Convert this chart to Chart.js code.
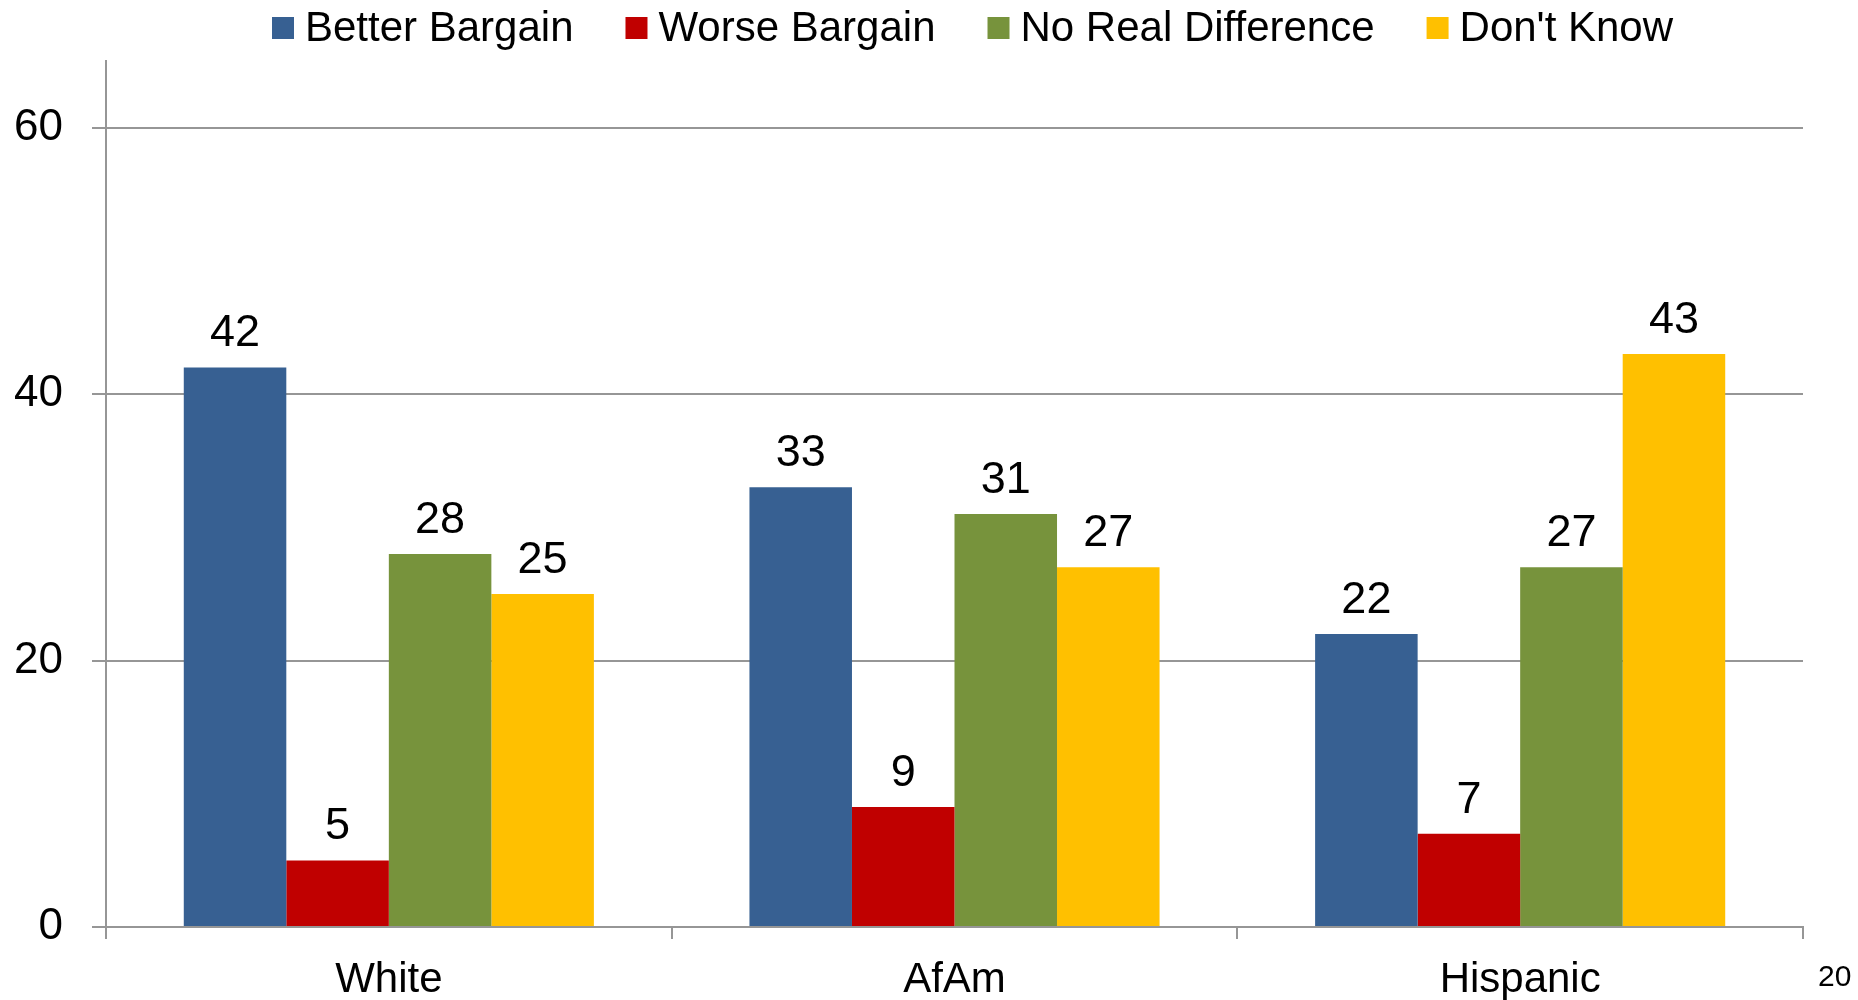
<!DOCTYPE html>
<html>
<head>
<meta charset="utf-8">
<script src="https://cdn.jsdelivr.net/npm/chart.js@4.4.0/dist/chart.umd.min.js"></script>
<style>
    body { margin: 0; background: #fff; }
    #wrap { position: relative; width: 1858px; height: 1000px; }
    #pageNum {
        position: absolute;
        left: 1818px;
        top: 961px;
        font-family: "Liberation Sans", Arial, sans-serif;
        font-size: 30px;
        line-height: 30px;
        color: #000;
    }
</style>
</head>
<body>
<div id="wrap">
    <canvas id="bargainChart"></canvas>
    <div id="pageNum">20</div>
</div>
<script>
// Kategórie a hodnoty zo stĺpcov
const groups = ['White', 'AfAm', 'Hispanic'];
const seriesNames = ['Better Bargain', 'Worse Bargain', 'No Real Difference', "Don't Know"];
const betterBargain = [42, 33, 22];
const worseBargain = [5, 9, 7];
const noRealDifference = [28, 31, 27];
const dontKnow = [25, 27, 43];
const yTicks = [0, 20, 40, 60];

const seriesColors = ['#376092', '#C00000', '#77933C', '#FFC000'];
const gridGray = '#969696';
const fontFamily = '"Liberation Sans", Arial, sans-serif';

// Hodnoty nad stĺpcami
const valueLabels = {
    id: 'valueLabels',
    afterDatasetsDraw(chart) {
        const ctx = chart.ctx;
        ctx.save();
        ctx.font = '45px ' + fontFamily;
        ctx.fillStyle = '#000';
        ctx.textAlign = 'center';
        ctx.textBaseline = 'alphabetic';
        chart.data.datasets.forEach((ds, i) => {
            chart.getDatasetMeta(i).data.forEach((bar, j) => {
                ctx.fillText(String(ds.data[j]), bar.x, bar.y - 21);
            });
        });
        ctx.restore();
    }
};

// Legenda hore (štvorček + text)
const topLegend = {
    id: 'topLegend',
    afterDraw(chart) {
        const ctx = chart.ctx;
        ctx.save();
        ctx.font = '42px ' + fontFamily;
        ctx.textBaseline = 'alphabetic';
        ctx.textAlign = 'left';
        let x = 272;
        chart.data.datasets.forEach((ds) => {
            ctx.fillStyle = ds.backgroundColor;
            ctx.fillRect(x, 17, 22, 22);
            ctx.fillStyle = '#000';
            ctx.fillText(ds.label, x + 33, 41);
            x += 33 + ctx.measureText(ds.label).width + 52;
        });
        ctx.restore();
    }
};

const seriesData = [betterBargain, worseBargain, noRealDifference, dontKnow];

const ctx = document.getElementById('bargainChart').getContext('2d');
new Chart(ctx, {
    type: 'bar',
    data: {
        labels: groups,
        datasets: seriesNames.map((name, i) => ({
            label: name,
            data: seriesData[i],
            backgroundColor: seriesColors[i],
            borderWidth: 0,
            categoryPercentage: 0.725,
            barPercentage: 1.0
        }))
    },
    options: {
        responsive: true,
        maintainAspectRatio: false,
        animation: false,
        layout: {
            padding: { top: 61, right: 55, bottom: 0, left: 14 }
        },
        plugins: {
            legend: { display: false },
            tooltip: { enabled: false }
        },
        scales: {
            x: {
                offset: true,
                afterFit(scale) {
                    scale.height = 73;
                },
                grid: {
                    offset: true,
                    drawOnChartArea: false,
                    drawTicks: true,
                    tickLength: 12,
                    color: gridGray,
                    lineWidth: 2
                },
                border: { display: true, color: gridGray, width: 2 },
                ticks: {
                    color: '#000',
                    font: { family: fontFamily, size: 42 },
                    padding: 16
                }
            },
            y: {
                min: 0,
                max: 65,
                afterBuildTicks(scale) {
                    scale.ticks = yTicks.map(v => ({ value: v }));
                },
                afterFit(scale) {
                    scale.width = 92;
                },
                grid: {
                    color: gridGray,
                    lineWidth: 2,
                    drawTicks: true,
                    tickLength: 14
                },
                border: { display: true, color: gridGray, width: 2 },
                ticks: {
                    color: '#000',
                    font: { family: fontFamily, size: 44 },
                    padding: 29
                }
            }
        }
    },
    plugins: [valueLabels, topLegend]
});
</script>
</body>
</html>
